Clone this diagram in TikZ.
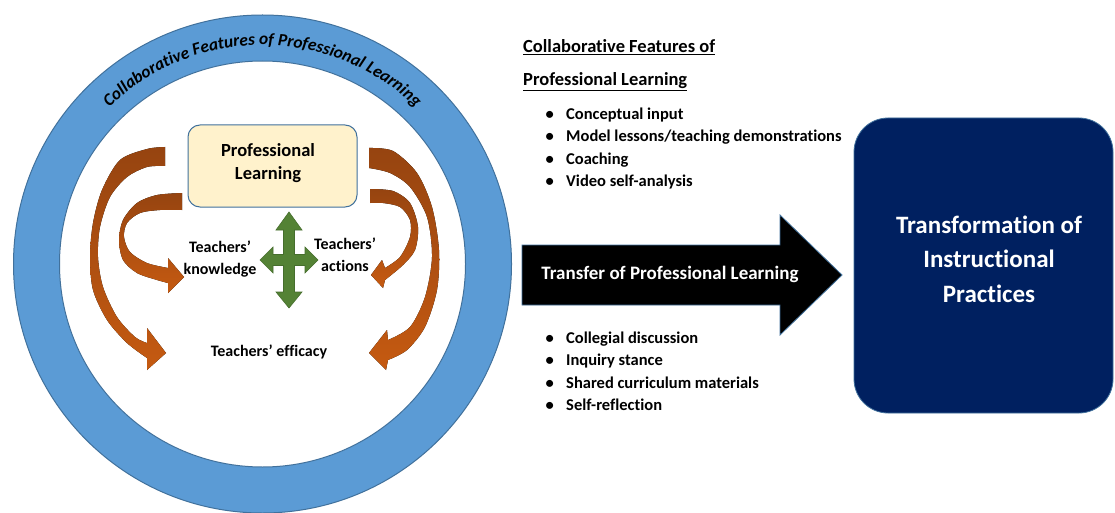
\documentclass[tikz,border=0pt]{standalone}
\usepackage{fontspec}
\setmainfont{Carlito}[RawFeature={-liga;-clig;-calt;-dlig}]
\usetikzlibrary{decorations.text}
\definecolor{ringblue}{RGB}{91,155,213}
\definecolor{ringedge}{RGB}{65,113,156}
\definecolor{plyellow}{RGB}{255,242,204}
\definecolor{arrgreen}{RGB}{84,130,53}
\definecolor{arrgreenedge}{RGB}{70,110,45}
\definecolor{orgdark}{RGB}{150,68,16}
\definecolor{orglight}{RGB}{197,90,17}
\definecolor{navybox}{RGB}{0,32,96}
\begin{document}
\begin{tikzpicture}[x=1pt,y=-1pt,
  lbl/.style={font=\fontsize{16}{22}\selectfont\bfseries, align=center, inner sep=0pt},
  itm/.style={font=\fontsize{16.5}{20}\selectfont\bfseries, anchor=mid west, inner sep=0pt},
  hdg/.style={font=\fontsize{18.5}{22}\selectfont\bfseries, anchor=mid west, inner sep=0pt},
  orarrow/.style={top color=orgdark, bottom color=orglight, draw=none}
]
\useasboundingbox (0,0) rectangle (1115,513);
\fill[white] (0,0) rectangle (1115,513);
\coordinate (c) at (262.5,264);
% ring
\draw[ringedge, fill=ringblue, line width=1pt] (c) circle[radius=249];
\draw[ringedge, fill=white, line width=1pt] (c) circle[radius=203];
% curved text
\begin{scope}[y=1pt]
\path[decorate, decoration={text along path, text align=center,
  text={|\fontsize{17.3}{17}\selectfont\bfseries\itshape|Collaborative Features of Professional Learning}}]
  (94.74,-123.23) arc[start angle=140, end angle=40, radius=219];
\end{scope}
% professional learning box
\node[draw=ringedge, fill=plyellow, rounded corners=12pt, line width=1pt,
  minimum width=169pt, minimum height=82pt] (plbox) at (272.5,166) {};
\node[font=\fontsize{18.5}{23}\selectfont\bfseries, align=center, inner sep=0pt] (pltext) at (268,163.5) {Professional\\Learning};
% orange arrows
\fill[orarrow] (165,147) -- plot[smooth] coordinates {(165,147) (147,149) (120,160) (102,190) (93,223) (90,257) (93,290) (107,320) (127,343) (147,358)}
  -- (147,370) -- (166,353) -- (147,328) -- (147,343)
  -- plot[smooth] coordinates {(147,343) (135,337) (117,317) (103,287) (98,257) (100,227) (110,197) (127,177) (147,167) (165,166)} -- cycle;
\fill[orarrow] (182,193) -- plot[smooth] coordinates {(182,193) (157,195) (137,203) (123,220) (119,240) (123,260) (137,273) (157,280) (168,283)}
  -- (168,293) -- (184,277) -- (168,258) -- (168,268)
  -- plot[smooth] coordinates {(168,268) (147,263) (130,252) (124,237) (127,223) (140,213) (160,210) (182,210)} -- cycle;
\fill[orarrow] (369,148) -- plot[smooth] coordinates {(369,148) (393,151) (417,173) (432,207) (439,250) (437,290) (425,327) (407,350) (388,360)}
  -- (386,370) -- (369,353) -- (387,330) -- (388,340)
  -- plot[smooth] coordinates {(388,340) (410,327) (425,297) (432,257) (427,217) (410,187) (390,173) (369,168)} -- cycle;
\fill[orarrow] (370,189) -- plot[smooth] coordinates {(370,189) (393,191) (410,203) (418,227) (415,250) (403,265) (385,280)}
  -- (383,288) -- (371,275) -- (382,260) -- (385,268)
  -- plot[smooth] coordinates {(385,268) (400,257) (410,237) (410,220) (400,207) (383,203) (370,203)} -- cycle;
% green four-way arrow
\draw[fill=arrgreen, draw=arrgreenedge, line width=0.6pt]
  (289,212) -- (302,230) -- (294.5,230) -- (294.5,254.5) -- (305,254.5) -- (305,247) -- (318,260)
  -- (305,273) -- (305,265.5) -- (294.5,265.5) -- (294.5,292) -- (302,292) -- (289,308) -- (276,292)
  -- (283.5,292) -- (283.5,265.5) -- (273,265.5) -- (273,273) -- (260,260) -- (273,247) -- (273,254.5)
  -- (283.5,254.5) -- (283.5,230) -- (276,230) -- cycle;
% inner labels
\node[lbl] (know) at (220,259) {Teachers’\\knowledge};
\node[lbl] (act) at (345,255) {Teachers’\\actions};
\node[lbl] (eff) at (269,352) {Teachers’ efficacy};
% heading and lists
\node[hdg] (h1) at (523,50) {\underline{Collaborative Features of}};
\node[hdg] (h2) at (523,83) {\underline{Professional Learning}};
\node[itm] (a1) at (545.5,117) {\makebox[20.5pt][l]{\textbullet}Conceptual input};
\node[itm] (a2) at (545.5,139.5) {\makebox[20.5pt][l]{\textbullet}Model lessons/teaching demonstrations};
\node[itm] (a3) at (545.5,162) {\makebox[20.5pt][l]{\textbullet}Coaching};
\node[itm] (a4) at (545.5,184) {\makebox[20.5pt][l]{\textbullet}Video self-analysis};
\node[itm] (b1) at (545.5,341) {\makebox[20.5pt][l]{\textbullet}Collegial discussion};
\node[itm] (b2) at (545.5,363) {\makebox[20.5pt][l]{\textbullet}Inquiry stance};
\node[itm] (b3) at (545.5,386) {\makebox[20.5pt][l]{\textbullet}Shared curriculum materials};
\node[itm] (b4) at (545.5,408) {\makebox[20.5pt][l]{\textbullet}Self-reflection};
% black transfer arrow
\draw[fill=black, draw=ringedge, line width=0.8pt]
  (522,245) -- (780,245) -- (780,215) -- (842,275) -- (780,335) -- (780,305) -- (522,305) -- cycle;
\node[font=\fontsize{19}{22}\selectfont\bfseries, text=white, inner sep=0pt] (transfer) at (670,274) {Transfer of Professional Learning};
% transformation box
\node[fill=navybox, draw=ringedge, line width=0.8pt, rounded corners=34pt,
  minimum width=259pt, minimum height=295pt] (tbox) at (983.5,265.5) {};
\node[font=\fontsize{25}{34.5}\selectfont\bfseries, text=white, align=center, inner sep=0pt] (ttext) at (989,259) {Transformation of\\Instructional\\Practices};
\end{tikzpicture}
\end{document}
